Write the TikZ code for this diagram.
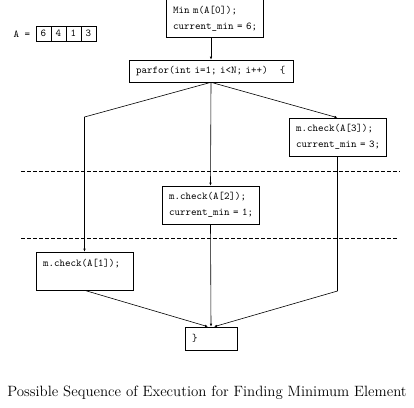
\documentclass[tikz,border=0pt]{standalone}
\usetikzlibrary{arrows.meta}
\newcommand{\codefont}{\fontsize{10.5}{16}\selectfont\ttfamily}
\tikzset{
  codebox/.style={draw, rectangle, align=left, inner xsep=7pt, inner ysep=0pt,
    minimum width=97pt, minimum height=38pt, text width=83pt, font=\codefont},
  cell/.style={draw, rectangle, minimum width=15pt, minimum height=15pt,
    inner sep=0pt, font=\codefont},
  flow/.style={-{Latex[length=3pt,width=2.5pt]}},
  phase/.style={dashed, dash pattern=on 4pt off 2pt}
}

\begin{document}
\begin{tikzpicture}[x=1pt, y=-1pt, line width=0.6pt]
\useasboundingbox (0,0) rectangle (414,407);
% the array
\node [font=\codefont] (alabel) at (22,34) {A =};
\foreach \v [count=\i] in {6,4,1,3} {
  \node [cell] (a\i) at (28.5+15*\i,33.5) {\v};
}
% code boxes
\node [codebox] (init) at (214.5,18.5)
  {\mbox{Min m(A[0]);}\\\mbox{current\_min = 6;}};
\node [codebox, minimum width=164pt, minimum height=22pt, text width=150pt]
  (loop) at (211,71) {\mbox{parfor(int i=1; i<N; i++)\hspace{12pt}\{}};
\node [codebox] (right) at (337.5,137)
  {\mbox{m.check(A[3]);}\\\mbox{current\_min = 3;}};
\node [codebox] (mid) at (210.5,205)
  {\mbox{m.check(A[2]);}\\\mbox{current\_min = 1;}};
\node [codebox] (left) at (84.5,271) {\mbox{m.check(A[1]);}\\\mbox{}};
\node [codebox, minimum width=52pt, minimum height=23pt, text width=38pt]
  (close) at (211,338.5) {\}};
% phases
\draw [phase] (21,171) -- (400,171);
\draw [phase] (21,238) -- (398,238);
% forks
\coordinate (bendL) at (84.5,117);
\coordinate (bendR) at (337.5,291);
\draw [flow] (loop.north |- init.south) -- (loop.north);
\draw [flow] (loop.south) -- (bendL) -- (left.north);
\draw [flow] (loop.south) -- (mid.north);
\draw [flow] (loop.south) -- (right.north);
% joins
\draw [flow] (left.south) -- ([xshift=-3pt]close.north);
\draw [flow] (mid.south) -- (close.north);
\draw [flow] (right.south) -- (bendR) -- ([xshift=3pt]close.north);
% caption
\node [font=\fontsize{14.9}{17}\selectfont] (caption) at (207,393)
  {Possible Sequence of Execution for Finding Minimum Element};
\end{tikzpicture}
\end{document}
